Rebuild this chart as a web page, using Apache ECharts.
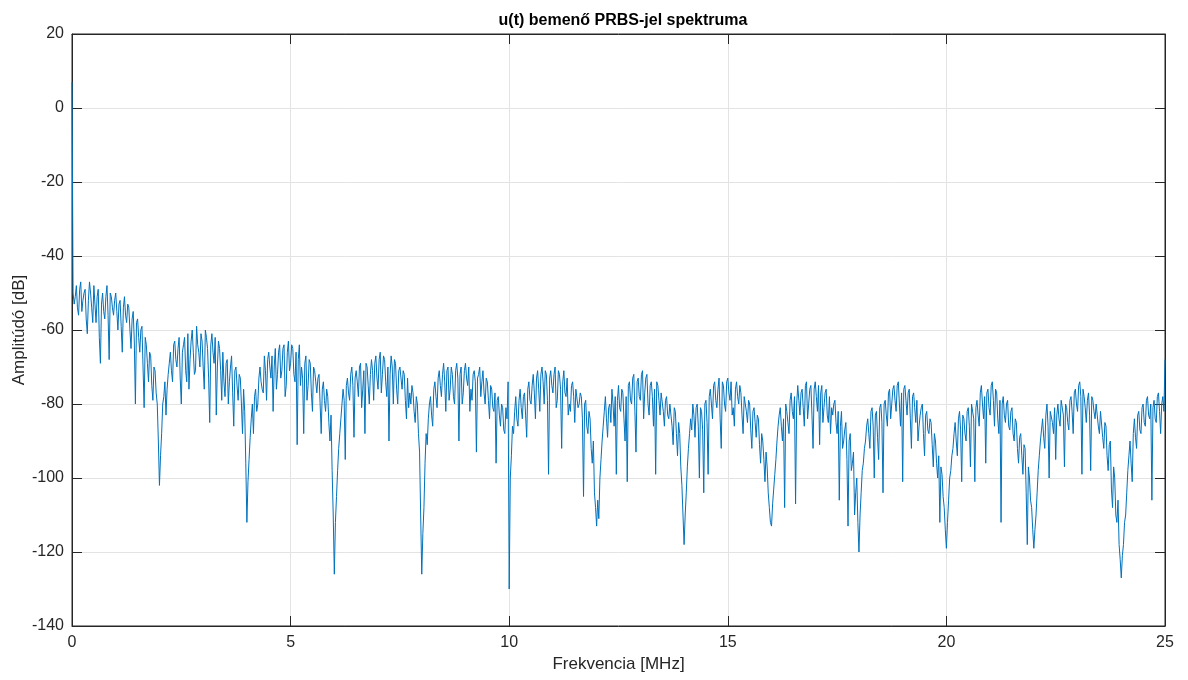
<!DOCTYPE html>
<html>
<head>
<meta charset="utf-8">
<script src="https://cdn.jsdelivr.net/npm/echarts@6/dist/echarts.min.js"></script>
<style>
html,body{margin:0;padding:0;background:#fff;}
#chart{width:1188px;height:680px;}
</style>
</head>
<body>
<div id="chart"></div>
<script>
// Frequency sample grid (MHz)
const freqStart = 0;
const freqStep = 0.025;

// Amplitude [dB] at each frequency sample, lobe by lobe (each lobe = 2 MHz = 80 samples)
const lobe1  = [7,-50,-53,-51,-48,-54,-56,-49,-47,-55,-52,-50,-49,-57,-61,-52,-47,-50,-54,-58,-48,-53,-58,-51,-49,-62,-69,-53,-50,-55,-57,-51,-48,-56,-68,-50,-51,-54,-56,-52,-50,-55,-60,-53,-52,-59,-66,-54,-51,-56,-58,-53,-54,-60,-65,-57,-55,-63,-80,-58,-57,-62,-66,-60,-59,-70,-81,-62,-64,-69,-74,-66,-67,-75,-79,-70,-71,-77,-80,-90];
const lobe2  = [-102,-94,-88,-80,-78,-74,-83,-76,-72,-69,-66,-71,-74,-64,-63,-68,-70,-65,-62,-73,-80,-66,-64,-62,-71,-74,-61,-76,-68,-63,-60,-66,-72,-71,-59,-64,-66,-70,-61,-63,-70,-76,-60,-62,-65,-73,-85,-64,-61,-66,-69,-62,-83,-70,-63,-65,-71,-79,-66,-74,-78,-69,-68,-80,-74,-70,-67,-77,-86,-71,-70,-75,-79,-72,-73,-80,-88,-76,-82,-96];
const lobe3  = [-112,-101,-95,-89,-84,-80,-88,-78,-76,-82,-80,-73,-70,-74,-76,-77,-67,-71,-79,-68,-66,-70,-73,-67,-82,-70,-65,-76,-72,-66,-64,-73,-71,-65,-64,-78,-75,-66,-63,-71,-69,-64,-65,-72,-74,-66,-91,-68,-64,-75,-70,-73,-88,-69,-67,-79,-75,-68,-69,-77,-82,-70,-71,-74,-77,-73,-72,-80,-88,-76,-74,-79,-82,-76,-78,-85,-90,-83,-98,-110];
const lobe4  = [-126,-112,-105,-98,-92,-88,-84,-80,-76,-79,-95,-75,-73,-77,-79,-72,-70,-75,-89,-73,-71,-74,-78,-70,-69,-81,-76,-71,-88,-69,-70,-75,-80,-72,-68,-71,-79,-69,-67,-73,-76,-68,-66,-77,-72,-67,-68,-74,-78,-70,-90,-72,-67,-70,-80,-68,-69,-76,-80,-71,-70,-73,-76,-71,-72,-79,-84,-73,-81,-77,-80,-75,-77,-82,-85,-78,-80,-88,-93,-110];
const lobe5  = [-126,-115,-108,-96,-88,-91,-84,-80,-78,-83,-86,-76,-74,-78,-81,-73,-71,-75,-78,-72,-69,-74,-82,-71,-70,-79,-76,-70,-72,-78,-80,-71,-69,-73,-90,-72,-70,-80,-77,-71,-69,-73,-75,-70,-82,-76,-79,-72,-71,-74,-93,-73,-72,-70,-78,-74,-71,-77,-80,-73,-74,-79,-84,-75,-76,-81,-82,-77,-96,-79,-78,-83,-86,-80,-81,-87,-88,-81,-84,-74];
const lobe6  = [-130,-100,-94,-86,-88,-82,-78,-84,-86,-79,-76,-81,-84,-78,-77,-83,-89,-76,-74,-79,-80,-75,-72,-77,-84,-73,-71,-76,-82,-72,-70,-74,-80,-71,-72,-79,-99,-73,-71,-75,-77,-72,-70,-81,-79,-71,-72,-76,-92,-74,-71,-77,-78,-73,-83,-80,-82,-75,-74,-78,-85,-76,-76,-81,-80,-77,-78,-84,-105,-80,-79,-86,-88,-82,-84,-92,-96,-90,-104,-108];
const lobe7  = [-113,-106,-111,-100,-95,-90,-86,-82,-78,-84,-89,-81,-80,-85,-76,-80,-86,-78,-99,-79,-75,-81,-82,-76,-77,-84,-90,-78,-101,-75,-74,-79,-80,-73,-72,-82,-93,-74,-73,-78,-79,-72,-71,-84,-77,-73,-72,-80,-83,-75,-74,-78,-86,-76,-99,-74,-75,-79,-83,-77,-77,-82,-86,-79,-78,-83,-84,-80,-80,-86,-91,-81,-82,-88,-94,-85,-88,-97,-102,-110];
const lobe8  = [-118,-110,-104,-97,-92,-88,-84,-87,-80,-83,-89,-81,-80,-86,-100,-81,-82,-87,-104,-80,-79,-85,-99,-78,-76,-80,-84,-75,-74,-79,-81,-76,-73,-84,-92,-74,-75,-80,-82,-74,-73,-77,-79,-74,-83,-81,-86,-76,-74,-78,-80,-75,-77,-83,-88,-78,-78,-82,-85,-79,-80,-87,-92,-82,-81,-85,-89,-83,-84,-91,-96,-88,-90,-95,-101,-93,-97,-104,-108,-112];
const lobe9  = [-113,-107,-103,-99,-95,-90,-86,-83,-81,-86,-90,-84,-108,-80,-82,-85,-88,-79,-77,-82,-84,-78,-107,-80,-75,-79,-83,-77,-76,-81,-86,-75,-74,-84,-80,-76,-75,-83,-92,-76,-74,-78,-82,-75,-91,-77,-75,-85,-81,-77,-76,-83,-85,-78,-88,-81,-83,-80,-79,-85,-88,-82,-106,-86,-82,-92,-90,-87,-85,-95,-113,-90,-88,-98,-96,-93,-110,-104,-100,-112];
const lobe10 = [-120,-110,-104,-98,-96,-92,-90,-86,-84,-88,-92,-82,-81,-86,-100,-83,-82,-89,-95,-81,-80,-85,-104,-80,-79,-83,-86,-77,-76,-84,-84,-76,-75,-79,-82,-75,-74,-80,-86,-77,-101,-76,-75,-79,-83,-77,-76,-84,-92,-78,-77,-81,-85,-79,-90,-86,-83,-81,-80,-88,-94,-83,-82,-87,-88,-84,-85,-91,-97,-88,-90,-96,-100,-94,-112,-97,-99,-105,-108,-114];
const lobe11 = [-119,-112,-106,-100,-98,-94,-92,-88,-85,-90,-94,-84,-82,-87,-101,-83,-84,-88,-90,-82,-81,-86,-97,-80,-80,-84,-101,-81,-79,-83,-86,-77,-75,-80,-84,-78,-96,-77,-76,-81,-83,-75,-74,-79,-86,-76,-77,-84,-88,-79,-112,-80,-78,-83,-85,-80,-79,-86,-87,-82,-81,-88,-90,-84,-85,-92,-96,-89,-88,-94,-99,-91,-92,-104,-118,-97,-100,-106,-108,-114];
const lobe12 = [-119,-114,-110,-104,-98,-94,-90,-87,-84,-89,-92,-83,-80,-86,-100,-82,-82,-85,-88,-81,-95,-83,-80,-84,-86,-79,-79,-83,-97,-80,-81,-85,-87,-79,-78,-82,-88,-77,-76,-80,-82,-75,-74,-78,-99,-76,-78,-81,-85,-79,-77,-83,-98,-78,-79,-82,-84,-80,-80,-86,-88,-82,-82,-89,-92,-85,-86,-94,-98,-91,-90,-103,-108,-97,-100,-110,-112,-106,-118,-122];
const lobe13 = [-127,-121,-118,-112,-110,-104,-98,-94,-90,-96,-101,-88,-84,-89,-92,-83,-82,-87,-88,-81,-80,-85,-86,-79,-78,-83,-84,-80,-106,-81,-79,-84,-85,-78,-77,-82,-88,-80,-78,-82,-68];

const amplitudes = [].concat(lobe1,lobe2,lobe3,lobe4,lobe5,lobe6,lobe7,lobe8,lobe9,lobe10,lobe11,lobe12,lobe13);

const xTicks = [0,5,10,15,20,25];
const yTicks = [-140,-120,-100,-80,-60,-40,-20,0,20];

const titleText = 'u(t) bemenő PRBS-jel spektruma';
const xLabel = 'Frekvencia [MHz]';
const yLabel = 'Amplitúdó [dB]';

const seriesData = amplitudes.map((v, i) => [+(freqStart + i * freqStep).toFixed(4), v]);

const FONT = 'Liberation Sans, Arial, Helvetica, sans-serif';
const AX = '#262626';
const GRIDC = '#e3e3e3';

const chart = echarts.init(document.getElementById('chart'), null, {renderer: 'canvas'});
chart.setOption({
  animation: false,
  backgroundColor: '#ffffff',
  title: {
    text: titleText,
    left: 618, top: 8, textAlign: 'center',
    textStyle: {fontFamily: FONT, fontSize: 16, fontWeight: 'bold', color: '#000'}
  },
  grid: {left: 72, right: 23, top: 34, bottom: 54, show: true, borderColor: AX, borderWidth: 1,
         backgroundColor: 'transparent', outerBoundsMode: 'none', containLabel: false},
  xAxis: [{
    type: 'value', min: xTicks[0], max: xTicks[xTicks.length-1], interval: 5,
    name: xLabel, nameLocation: 'middle', nameGap: 30, nameMoveOverlap: false,
    nameTextStyle: {fontFamily: FONT, fontSize: 17, color: AX},
    axisLine: {show: true, onZero: false, lineStyle: {color: AX, width: 1}},
    axisTick: {show: true, inside: true, length: 10, lineStyle: {color: AX}},
    axisLabel: {fontFamily: FONT, fontSize: 16, color: AX, margin: 9},
    splitLine: {show: true, lineStyle: {color: GRIDC, width: 1}}
  },{
    type: 'value', position: 'top', min: xTicks[0], max: xTicks[xTicks.length-1], interval: 5,
    axisLine: {show: true, onZero: false, lineStyle: {color: AX, width: 1}},
    axisTick: {show: true, inside: true, length: 10, lineStyle: {color: AX}},
    axisLabel: {show: false}, splitLine: {show: false}
  }],
  yAxis: [{
    type: 'value', min: yTicks[0], max: yTicks[yTicks.length-1], interval: 20,
    name: yLabel, nameLocation: 'middle', nameGap: 44, nameRotate: 90, nameMoveOverlap: false,
    nameTextStyle: {fontFamily: FONT, fontSize: 17, color: AX},
    axisLine: {show: true, onZero: false, lineStyle: {color: AX, width: 1}},
    axisTick: {show: true, inside: true, length: 10, lineStyle: {color: AX}},
    axisLabel: {fontFamily: FONT, fontSize: 16, color: AX, margin: 8},
    splitLine: {show: true, lineStyle: {color: GRIDC, width: 1}}
  },{
    type: 'value', position: 'right', min: yTicks[0], max: yTicks[yTicks.length-1], interval: 20,
    axisLine: {show: true, onZero: false, lineStyle: {color: AX, width: 1}},
    axisTick: {show: true, inside: true, length: 10, lineStyle: {color: AX}},
    axisLabel: {show: false}, splitLine: {show: false}
  }],
  series: [{
    type: 'line', xAxisIndex: 0, yAxisIndex: 0,
    data: seriesData, showSymbol: false, sampling: null,
    lineStyle: {color: '#0072BD', width: 1},
    itemStyle: {color: '#0072BD'}
  }]
});
</script>
</body>
</html>
